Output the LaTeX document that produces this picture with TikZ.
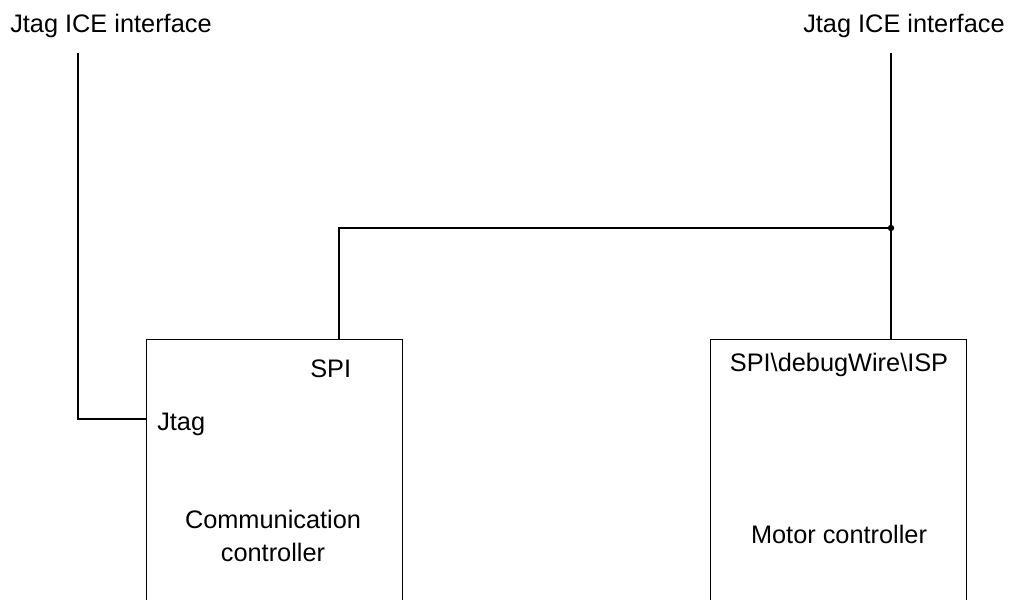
\documentclass[tikz,border=0pt]{standalone}
\usepackage{fontspec}
\setmainfont{Liberation Sans}
\begin{document}
\begin{tikzpicture}[x=0.75pt,y=-0.75pt,
  lbl/.style={inner sep=0pt,font=\fontsize{19}{24.75}\selectfont},
  box/.style={draw,line width=1.1pt,anchor=north west,minimum width=192pt,minimum height=225pt,inner sep=0pt},
  wire/.style={line width=1.1pt}]
\useasboundingbox (0,0) rectangle (1012,599);
\clip (0,0) rectangle (1012,599);
% labels at top
\node[lbl,anchor=base west] (lab1) at (10,33) {Jtag ICE interface};
\node[lbl,anchor=base west] (lab2) at (803,33) {Jtag ICE interface};
% boxes
\node[box] (comm) at (146,339) {};
\node[box] (motor) at (710,339) {};
% texts inside boxes
\node[lbl,anchor=base west] (spi) at (310,377) {SPI};
\node[lbl,anchor=base west] (jtag) at (157,430) {Jtag};
\node[lbl,anchor=base,align=center] (commtxt) at (273,561) {Communication\\controller};
\node[lbl,anchor=base] (spidbg) at (839,371) {SPI\textbackslash debugWire\textbackslash ISP};
\node[lbl,anchor=base] (mottxt) at (839,543) {Motor controller};
% connection points
\coordinate (l1) at (78,53);
\coordinate (r1) at (891,53);
\coordinate (jtagpin) at (146,419);
\coordinate (spipin) at (339,339);
\coordinate (junc) at (891,228);
% wires
\draw[wire] (l1) |- (jtagpin);
\draw[wire] (r1) -- (junc) -- (motor.north -| junc);
\draw[wire] (spipin) |- (junc);
\fill (junc) circle (2.4pt);
\end{tikzpicture}
\end{document}
